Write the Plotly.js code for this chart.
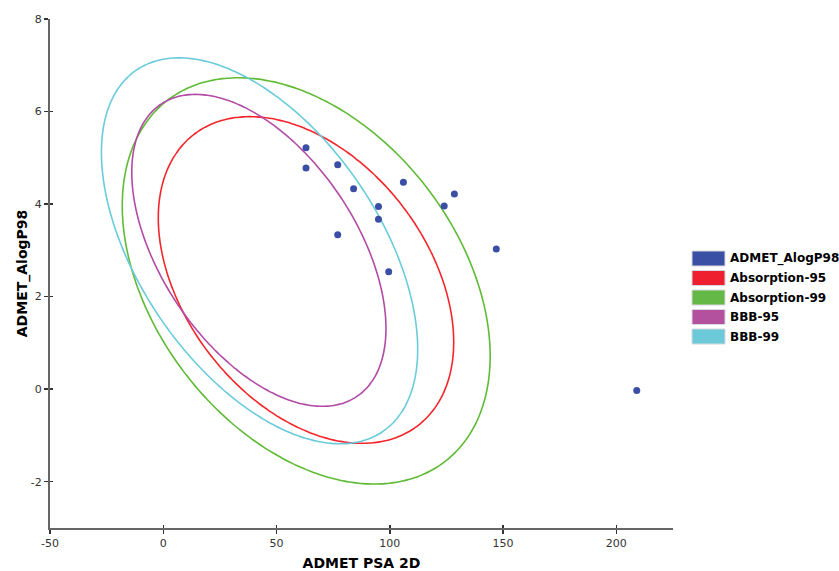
<!DOCTYPE html>
<html>
<head>
<meta charset="utf-8">
<script src="https://cdn.plot.ly/plotly-3.0.1.min.js"></script>
<style>html,body{margin:0;padding:0;background:#fff;}#chart{width:839px;height:571px;}</style>
</head>
<body>
<div id="chart"></div>
<script>
// Scatter points: ADMET PSA 2D vs ADMET AlogP98
const psa2d = [63, 63, 77, 84, 106, 95, 95, 77, 99.5, 124, 128.5, 147, 209];
const alogp98 = [5.22, 4.78, 4.85, 4.33, 4.47, 3.95, 3.67, 3.34, 2.54, 3.96, 4.22, 3.03, -0.03];

// Confidence ellipses (center, half extent along x and y, tilt of extreme points)
const ellipseNames = ['Absorption-95', 'Absorption-99', 'BBB-95', 'BBB-99'];
const ellipseCenterX = [63.0, 63.1, 42.2, 42.5];
const ellipseCenterY = [2.36, 2.34, 3.0, 2.99];
const ellipseHalfX = [65.2, 81.2, 56.1, 69.8];
const ellipseHalfY = [3.53, 4.39, 3.37, 4.17];
const ellipseTiltCos = [-0.38, -0.37, -0.50, -0.51];
const ellipseColors = ['#f5262b', '#5fbb35', '#b24aa6', '#6acbdc'];

const pointName = 'ADMET_AlogP98';
const pointColor = '#3a4ea6';

const legendNames = [pointName].concat(ellipseNames);
const legendColors = ['#3a50a4', '#ee2030', '#63b846', '#b3519e', '#6ccad8'];

const xTickVals = [-50, 0, 50, 100, 150, 200];
const xTickText = ['-50', '0', '50', '100', '150', '200'];
const yTickVals = [-2, 0, 2, 4, 6, 8];
const yTickText = ['-2', '0', '2', '4', '6', '8'];

function ellipseTrace(i) {
  const phi = Math.acos(ellipseTiltCos[i]);
  const n = 240;
  const ex = [], ey = [];
  for (let k = 0; k <= n; k++) {
    const t = 2 * Math.PI * k / n;
    ex.push(ellipseCenterX[i] + ellipseHalfX[i] * Math.cos(t));
    ey.push(ellipseCenterY[i] + ellipseHalfY[i] * Math.cos(t - phi));
  }
  return {x: ex, y: ey, type: 'scatter', mode: 'lines', name: ellipseNames[i],
    line: {color: ellipseColors[i], width: 1.6, shape: 'spline'}, showlegend: false,
    hoverinfo: 'skip'};
}

const traces = [];
for (let i = 0; i < ellipseNames.length; i++) traces.push(ellipseTrace(i));
// points drawn on the overlay axes (which match x/y) so the inner tick halves are drawn too
traces.push({x: psa2d, y: alogp98, type: 'scatter', mode: 'markers', name: pointName,
  xaxis: 'x2', yaxis: 'y2', marker: {color: pointColor, size: 7}, showlegend: false});

// custom legend (rectangular swatches)
const L = 50, R = 673, T = 19, B = 528;
const pw = R - L, ph = B - T;
const shapes = [], annotations = [];
legendNames.forEach((nm, i) => {
  const cy = 258.5 + i * 19.5;
  shapes.push({type: 'rect', xref: 'paper', yref: 'paper',
    x0: (692 - L) / pw, x1: (725 - L) / pw,
    y0: (B - (cy + 7.5)) / ph, y1: (B - (cy - 7.5)) / ph,
    fillcolor: legendColors[i], line: {color: '#d8d8e0', width: 1}});
  annotations.push({xref: 'paper', yref: 'paper', x: (728 - L) / pw, y: (B - cy) / ph,
    xanchor: 'left', yanchor: 'middle', text: nm, showarrow: false,
    font: {family: 'DejaVu Sans', size: 12, color: '#000', weight: 'bold'}});
});

const tickFont = {family: 'DejaVu Sans', size: 11, color: '#333'};
const layout = {
  width: 839, height: 571,
  margin: {l: L, r: 839 - R, t: T, b: 571 - B},
  paper_bgcolor: '#fff', plot_bgcolor: '#fff',
  showlegend: false,
  xaxis: {range: [-50, 225], tickvals: xTickVals, ticktext: xTickText, ticks: 'outside', ticklen: 4, tickwidth: 1.5,
    tickcolor: '#333', showline: true, linecolor: '#666', linewidth: 2, showgrid: false,
    zeroline: false, tickfont: tickFont,
    title: {text: 'ADMET PSA 2D', font: {family: 'DejaVu Sans', size: 14, color: '#000', weight: 'bold'}, standoff: 12}},
  yaxis: {range: [-3, 8], tickvals: yTickVals, ticktext: yTickText, ticks: 'outside', ticklen: 4, tickwidth: 1.5,
    tickcolor: '#333', showline: true, linecolor: '#666', linewidth: 2, showgrid: false,
    zeroline: false, tickfont: tickFont,
    title: {text: 'ADMET_AlogP98', font: {family: 'DejaVu Sans', size: 14, color: '#000', weight: 'bold'}, standoff: 0}},
  xaxis2: {overlaying: 'x', range: [-50, 225], side: 'bottom', tickvals: xTickVals, ticks: 'inside', ticklen: 3,
    tickwidth: 1.5, tickcolor: '#333', showticklabels: false, showgrid: false, zeroline: false, showline: false},
  yaxis2: {overlaying: 'y', range: [-3, 8], side: 'left', tickvals: yTickVals, ticks: 'inside', ticklen: 3,
    tickwidth: 1.5, tickcolor: '#333', showticklabels: false, showgrid: false, zeroline: false, showline: false},
  shapes: shapes,
  annotations: annotations
};

Plotly.newPlot('chart', traces, layout, {displayModeBar: false, staticPlot: true});
</script>
</body>
</html>
